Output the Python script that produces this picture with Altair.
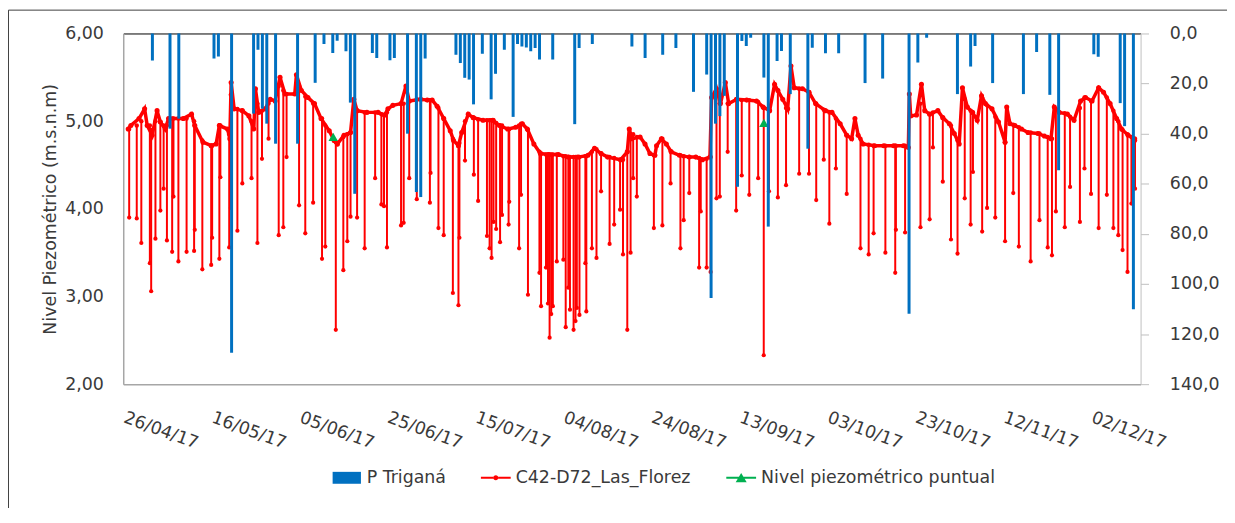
import altair as alt
import pandas as pd

# ---------------- datos ----------------
# Precipitación diaria P Triganá (mm)
p_fechas = ["2017-04-30", "2017-05-04", "2017-05-06", "2017-05-14", "2017-05-15", "2017-05-18",
            "2017-05-23", "2017-05-24", "2017-05-25", "2017-05-26", "2017-05-28", "2017-06-02",
            "2017-06-06", "2017-06-08", "2017-06-10", "2017-06-11", "2017-06-13", "2017-06-14",
            "2017-06-15", "2017-06-19", "2017-06-20", "2017-06-23", "2017-06-24", "2017-06-27",
            "2017-06-29", "2017-06-30", "2017-07-01", "2017-07-08", "2017-07-09", "2017-07-10",
            "2017-07-11", "2017-07-12", "2017-07-14", "2017-07-16", "2017-07-17", "2017-07-19",
            "2017-07-21", "2017-07-22", "2017-07-23", "2017-07-24", "2017-07-25", "2017-07-26",
            "2017-07-27", "2017-07-30", "2017-08-04", "2017-08-05", "2017-08-08", "2017-08-17",
            "2017-08-20", "2017-08-24", "2017-08-27", "2017-08-31", "2017-09-03", "2017-09-04",
            "2017-09-05", "2017-09-06", "2017-09-07", "2017-09-10", "2017-09-11", "2017-09-12",
            "2017-09-13", "2017-09-16", "2017-09-17", "2017-09-19", "2017-09-20", "2017-09-22",
            "2017-09-26", "2017-09-27", "2017-09-30", "2017-10-03", "2017-10-09", "2017-10-13",
            "2017-10-19", "2017-10-21", "2017-10-23", "2017-10-30", "2017-11-02", "2017-11-03",
            "2017-11-07", "2017-11-14", "2017-11-17", "2017-11-20", "2017-11-22", "2017-11-30",
            "2017-12-01", "2017-12-06", "2017-12-07", "2017-12-09"]
p_mm = [10.8, 38.0, 34.0, 10.0, 9.2, 127.5,
        32.0, 6.5, 30.0, 36.0, 44.0, 44.0,
        19.7, 4.2, 7.8, 2.9, 7.1, 27.6,
        64.0, 7.8, 9.8, 10.7, 9.8, 40.0,
        63.3, 65.3, 10.0, 8.5, 11.8, 17.7,
        18.4, 28.3, 8.1, 26.3, 16.1, 6.5,
        33.3, 4.2, 5.2, 5.6, 7.1, 5.8,
        10.4, 10.4, 36.2, 5.8, 4.2, 5.2,
        9.8, 8.5, 5.8, 23.3, 16.4, 105.6,
        36.0, 33.0, 24.9, 61.2, 3.0, 5.0,
        1.7, 17.6, 77.1, 11.0, 7.0, 24.2,
        46.0, 5.7, 7.9, 7.9, 19.8, 18.0,
        111.9, 11.6, 1.7, 24.2, 13.2, 5.0,
        19.8, 24.2, 7.4, 24.5, 54.6, 8.3,
        9.3, 27.8, 37.0, 110.1]

# C42-D72_Las_Florez: nivel base (días desde 24/04/2017 12:00, m.s.n.m)
nivel_dias = [0.0, 0.6, 2.46, 3.73, 4.32, 5.44, 6.56, 7.31, 8.42, 9.17, 12.52, 14.39, 15.13, 17.0,
              18.86, 19.98, 20.72, 22.59, 23.1, 23.4, 24.08, 25.94, 27.43, 28.55, 28.92, 29.67,
              31.16, 32.28, 33.39, 34.51, 35.63, 37.87, 38.24, 39.36, 40.85, 42.34, 43.83, 45.7,
              46.81, 47.56, 49.05, 50.54, 51.29, 52.03, 54.27,
              56.8, 58.29, 59.04, 60.16, 62.02, 63.14, 63.88, 66.49, 67.98, 69.1, 70.22, 71.72,
              73.2, 73.95, 75.07, 75.81, 77.3, 78.42, 80.66, 82.9, 84.39, 86.25, 88.11, 89.6,
              90.72, 92.21, 93.7, 95.57, 97.8, 100.04, 102.27, 104.51, 106.0, 107.49, 108.98,
              111.96, 113.45, 113.9,
              114.5, 116.36, 117.48, 118.6, 119.72, 120.1, 121.21, 122.33, 123.44, 125.31, 127.54,
              129.03, 130.53, 132.24, 132.61, 133.73, 134.63, 135.74, 136.49, 138.35, 140.59,
              142.83, 144.32, 145.81, 146.93, 147.68, 148.79, 149.91, 150.66, 151.4, 153.27,
              154.76, 156.25, 158.49, 159.98, 161.84, 163.33, 164.45, 165.2, 165.94, 167.06, 169.67,
              171.75, 173.99, 176.22, 177.34, 177.57, 177.87, 179.2, 180.32, 181.07, 182.18, 184.05,
              185.17, 186.66, 187.78, 188.9, 189.64, 190.76, 191.88, 193.0, 193.97, 194.86, 196.35,
              197.84, 199.33, 199.7, 200.45, 201.57, 203.06, 204.55, 206.79, 208.28, 209.77,
              210.52, 211.64, 213.5, 215.0, 216.49, 217.61, 219.1, 220.6, 221.71, 223.2, 224.69,
              225.81, 227.3, 228.79]
nivel_m = [4.91, 4.95, 5.03, 5.14, 4.95, 4.84, 5.12, 4.99, 4.91, 5.03, 5.03, 5.08, 4.95, 4.76,
           4.72, 4.74, 4.95, 4.91, 4.80, 5.44, 5.14, 5.12, 5.06, 4.91, 5.37, 5.10,
           5.14, 5.25, 5.23, 5.50, 5.31, 5.31, 5.53, 5.35, 5.27, 5.20, 5.03, 4.89,
           4.78, 4.74, 4.84, 4.87, 5.25, 5.12, 5.10,
           5.10, 5.07, 5.14, 5.18, 5.20, 5.40, 5.23, 5.25, 5.24, 5.24, 5.17, 5.03,
           4.89, 4.78, 4.72, 4.87, 5.08, 5.04, 5.01, 5.01, 4.95, 4.91, 4.93, 4.97,
           4.91, 4.74, 4.63, 4.62, 4.62, 4.59, 4.59, 4.61, 4.69, 4.63, 4.59,
           4.56, 4.65, 4.91,
           4.80, 4.82, 4.74, 4.63, 4.61, 4.72, 4.80, 4.74, 4.65, 4.61, 4.59,
           4.59, 4.56, 4.59, 5.27, 5.37, 5.20, 5.44, 5.20, 5.25, 5.24,
           5.23, 5.16, 5.12, 5.42, 5.35, 5.25, 5.14, 5.63, 5.38, 5.37,
           5.33, 5.20, 5.12, 5.10, 4.97, 4.84, 4.80, 5.03, 4.84, 4.74, 4.72,
           4.72, 4.72, 4.72, 4.70, 5.31, 5.06, 5.07, 5.42, 5.12, 5.08, 5.12,
           5.04, 4.97, 4.86, 4.74, 5.38, 5.16, 5.10, 5.01, 5.29, 5.20, 5.14,
           4.99, 4.76, 5.16, 4.97, 4.95, 4.91, 4.87, 4.86, 4.83, 4.80,
           5.16, 5.10, 5.08, 5.01, 5.23, 5.27, 5.23, 5.38, 5.33, 5.20, 5.03,
           4.91, 4.84, 4.80]

# Descensos por bombeo: día, nivel de partida, nivel mínimo
bombeo_dias = [0.22, 1.94, 2.98, 4.92, 5.22, 6.19, 7.31, 8.05, 8.8, 9.99, 10.29, 11.41, 13.27, 14.98,
               15.13, 16.85, 18.86, 19.08, 20.72, 20.95, 22.96, 23.33, 24.82, 25.94, 28.03, 29.37,
               30.41, 31.9, 34.21, 35.26, 36.0, 38.84, 40.25, 42.04, 44.06, 44.8, 47.19, 48.9,
               49.8, 50.54, 52.03, 53.75, 56.13,
               57.55, 58.15, 58.82, 62.02, 62.62, 63.88, 65.6, 68.58, 68.73, 70.52, 71.72, 73.8,
               75.07, 75.29, 76.56, 78.57, 79.54, 81.55, 82.15, 82.6, 83.04, 83.64, 84.53, 84.98,
               86.47, 86.62, 88.86, 89.3, 90.87, 93.48, 93.85, 94.97, 95.42, 95.79, 96.16, 96.53,
               97.43, 98.92, 99.45, 100.04, 100.42, 101.24, 101.68, 101.98, 102.58, 103.92,
               104.14, 105.41, 106.45, 107.49, 109.43, 110.47, 111.81, 112.48, 113.45, 114.2, 114.79,
               115.62, 119.49, 121.43, 123.29, 125.53, 126.27, 127.54, 129.78, 130.15, 131.49,
               132.39, 133.73, 134.48, 136.27, 138.2, 139.47, 141.18, 143.2, 144.47, 145.66,
               147.68, 149.54, 152.52, 154.76, 156.4, 158.11, 159.38, 160.87, 163.33, 166.46,
               168.32, 169.44, 172.12,
               174.36, 174.51, 176.6, 180.1, 182.18, 182.93, 185.17, 187.03, 188.52, 190.16, 191.5,
               192.03, 194.12, 195.24, 197.1, 199.33, 201.19, 202.46, 205.14, 207.15, 209.02,
               209.99, 210.88, 212.9, 214.1, 216.34, 217.38, 218.87, 220.6, 222.46, 223.95,
               225.07, 226.04, 227.16, 228.05, 228.87]
bombeo_inicio = [4.91, 4.95, 5.0, 4.95, 4.9, 5.0, 4.99, 4.95, 4.95, 5.03, 5.03, 5.03, 5.03, 5.0,
                 4.95, 4.78, 4.72, 4.72, 4.95, 4.95, 4.85, 5.3, 5.14, 5.12, 5.0, 5.2,
                 5.12, 5.2, 5.4, 5.35, 5.31, 5.4, 5.28, 5.2, 5.03, 4.95, 4.76, 4.82,
                 4.85, 4.87, 5.12, 5.1, 5.1,
                 5.08, 5.07, 5.1, 5.2, 5.2, 5.23, 5.25, 5.24, 5.24, 5.15, 5.03, 4.8,
                 4.72, 4.75, 5.0, 5.04, 5.02, 5.01, 5.01, 5.01, 5.01, 4.98, 4.95, 4.95,
                 4.91, 4.91, 4.95, 4.97, 4.9, 4.65, 4.63, 4.62, 4.62, 4.62, 4.62, 4.62,
                 4.62, 4.6, 4.6, 4.59, 4.59, 4.59, 4.59, 4.59, 4.59, 4.6,
                 4.6, 4.65, 4.68, 4.63, 4.59, 4.58, 4.56, 4.56, 4.65, 4.85, 4.85,
                 4.82, 4.61, 4.8, 4.66, 4.61, 4.6, 4.59, 4.58, 4.57, 4.57,
                 4.59, 5.3, 5.2, 5.2, 5.25, 5.24, 5.24, 5.22, 5.15, 5.12,
                 5.35, 5.15, 5.37, 5.33, 5.2, 5.13, 5.1, 5.03, 4.84, 4.8,
                 4.73, 4.72, 4.72,
                 4.72, 4.72, 4.72, 5.2, 5.08, 5.1, 5.04, 4.95, 4.78, 5.25, 5.12,
                 5.1, 5.27, 5.18, 5.05, 4.76, 4.96, 4.93, 4.87, 4.86, 4.82,
                 4.8, 5.14, 5.09, 5.05, 5.15, 5.27, 5.23, 5.38, 5.27, 5.12,
                 5.0, 4.9, 4.85, 4.82, 4.78]
bombeo_min = [3.90, 3.89, 3.61, 3.38, 3.06, 3.66, 3.98, 4.23, 3.64, 3.51, 4.14, 3.40, 3.51, 3.52,
              3.76, 3.31, 3.36, 3.67, 3.43, 4.36, 3.56, 4.01, 3.75, 4.29, 4.35, 3.61,
              4.57, 4.80, 3.70, 3.79, 4.59, 4.04, 3.72, 4.07, 3.43, 3.57, 2.62, 3.30,
              3.63, 3.91, 3.90, 3.55, 4.35,
              4.05, 4.03, 3.56, 3.81, 3.84, 4.35, 4.11, 4.07, 4.41, 3.78, 3.70, 3.04,
              2.90, 3.67, 4.55, 4.39, 4.09, 3.69, 3.55, 3.44, 3.85, 3.77, 3.62, 3.93,
              3.82, 4.08, 3.55, 4.16, 3.02, 3.27, 2.89, 3.33, 2.92, 2.53, 2.80, 2.89,
              3.40, 3.42, 2.65, 3.10, 2.85, 2.62, 2.72, 2.87, 2.79, 3.38,
              2.83, 3.55, 3.44, 4.20, 3.60, 3.82, 3.99, 3.48, 2.62, 3.50, 4.35,
              4.14, 3.78, 3.81, 4.29, 3.55, 3.87, 4.18, 3.33, 3.97, 3.33,
              3.28, 4.12, 4.14, 4.65, 3.98, 4.38, 4.16, 4.35, 2.33, 4.20,
              4.13, 4.27, 4.40, 4.40, 4.10, 4.56, 3.83, 4.46, 4.17, 3.55,
              3.48, 3.72, 3.50,
              3.27, 3.76, 3.73, 3.79, 3.88, 4.70, 4.31, 3.65, 3.49, 4.12, 3.82,
              4.42, 3.74, 4.01, 3.90, 3.63, 4.18, 3.57, 3.40, 3.87, 3.56,
              3.47, 3.97, 3.79, 4.25, 3.85, 4.46, 4.17, 3.78, 4.16, 3.78,
              3.70, 3.53, 3.28, 4.06, 4.23]

# Nivel piezométrico puntual
puntual_dias = [46.6, 144.5]
puntual_m = [4.82, 4.98]

series = ["P Triganá", "C42-D72_Las_Florez", "Nivel piezométrico puntual"]
tick_fechas = ["2017-04-26", "2017-05-16", "2017-06-05", "2017-06-25", "2017-07-15", "2017-08-04",
               "2017-08-24", "2017-09-13", "2017-10-03", "2017-10-23", "2017-11-12", "2017-12-02"]

# ---------------- tablas ----------------
origen = pd.Timestamp("2017-04-24 12:00")


def a_fecha(dias):
    return (origen + pd.to_timedelta(dias, unit="D")).round("min")


df_p = pd.DataFrame({"fecha": pd.to_datetime(p_fechas), "p": p_mm})
df_base = pd.DataFrame({"t": a_fecha(nivel_dias), "nivel": nivel_m})
df_bomb = pd.DataFrame({"t": a_fecha(bombeo_dias), "inicio": bombeo_inicio, "minimo": bombeo_min})
df_punt = pd.DataFrame({"t": a_fecha(puntual_dias), "nivel": puntual_m})


def dt(s, h=0):
    y, m, d = (int(v) for v in s.split("-"))
    return alt.DateTime(year=y, month=m, date=d, hours=h)


x_scale = alt.Scale(domain=[dt("2017-04-24", 12), dt("2017-12-09", 12)])
y_scale = alt.Scale(domain=[2, 6])

RED = "#FF0000"
BLUE = "#0070C0"
GREEN = "#00B050"
TXT = "#3a3a3a"
FONT = "DejaVu Sans"

ax_bottom = alt.Axis(values=[dt(s) for s in tick_fechas], format="%d/%m/%y", labelAngle=20,
                     labelAlign="left", labelBaseline="middle", labelPadding=33, labelOffset=-11,
                     ticks=False, tickSize=0, domainColor="#A6A6A6", domainWidth=1.5, grid=False,
                     title=None, labelOverlap=False, labelFlush=False, labelBound=False)
ax_left = alt.Axis(values=[2, 3, 4, 5, 6], labelExpr="replace(format(datum.value, '.2f'), '.', ',')",
                   ticks=False, tickSize=0, labelPadding=20, domainColor="#A6A6A6", domainWidth=1.5,
                   grid=False, title="Nivel Piezométrico (m.s.n.m)", titlePadding=5)
ax_top = alt.Axis(orient="top", labels=False, ticks=False, domainColor="#000000", domainWidth=1,
                  title=None, grid=False)
ax_right = alt.Axis(orient="right", values=list(range(0, 141, 20)),
                    labelExpr="replace(format(datum.value, '.1f'), '.', ',')",
                    ticks=True, tickSize=8, tickColor="#BFBFBF", domainColor="#BFBFBF",
                    labelPadding=21, title="P (mm)", titleAngle=270, titleBaseline="top",
                    titlePadding=9, grid=False)

X_red = alt.X("t:T", scale=x_scale, axis=ax_bottom)


def Y_red(field):
    return alt.Y(field, type="quantitative", scale=y_scale, axis=ax_left)


rules = alt.Chart(df_bomb).mark_rule(color=RED, strokeWidth=2).encode(
    x=X_red, y=Y_red("inicio"), y2="minimo:Q")
bottoms = alt.Chart(df_bomb).mark_circle(color=RED, size=18, opacity=1).encode(
    x=X_red, y=Y_red("minimo"))
tops = alt.Chart(df_bomb).mark_circle(color=RED, size=20, opacity=1).encode(
    x=X_red, y=Y_red("inicio"))
line = alt.Chart(df_base).mark_line(color=RED, strokeWidth=3.5).encode(
    x=X_red, y=Y_red("nivel"))
base_pts = alt.Chart(df_base).mark_circle(color=RED, size=26, opacity=1).encode(
    x=X_red, y=Y_red("nivel"))
green = alt.Chart(df_punt).mark_point(shape="triangle-up", filled=True, color=GREEN, size=90,
                                      opacity=1).encode(x=X_red, y=Y_red("nivel"))
red_layer = alt.layer(rules, line, base_pts, tops, bottoms, green)

bars = alt.Chart(df_p).mark_bar(color=BLUE, size=3).encode(
    x=alt.X("fecha:T", scale=x_scale, axis=ax_top),
    y=alt.Y("p:Q", scale=alt.Scale(domain=[0, 140], reverse=True), axis=ax_right),
)

sym_paths = [
    "M-0.95,-0.4H0.95V0.4H-0.95Z",
    "M-1,-0.07H-0.16V0.07H-1Z M0.16,-0.07H1V0.07H0.16Z M-0.17,0A0.17,0.17 0 1,0 0.17,0A0.17,0.17 0 1,0 -0.17,0Z",
    "M-1,-0.07H1V0.07H-1Z M-0.37,0.3L0,-0.32L0.37,0.3Z",
]
leg = alt.Legend(title=None, orient="none", legendX=210, legendY=432, direction="horizontal",
                 symbolSize=900, labelFontSize=17.5, labelFont=FONT, labelColor=TXT,
                 labelOffset=5, columnPadding=35, symbolStrokeWidth=0, labelLimit=600)
legend_layer = alt.Chart(pd.DataFrame({"serie": series})).transform_filter(
    "datum.serie == 'ninguna'").mark_point(filled=True, opacity=1).encode(
    color=alt.Color("serie:N", scale=alt.Scale(domain=series, range=[BLUE, RED, GREEN]), legend=leg),
    shape=alt.Shape("serie:N", scale=alt.Scale(domain=series, range=sym_paths), legend=leg),
    size=alt.Size("serie:N", scale=alt.Scale(domain=series, range=[900, 900, 900]), legend=leg),
)

border = alt.Chart(pd.DataFrame({"a": [1]})).mark_rect(filled=False, stroke="#404040",
                                                        strokeWidth=1).encode(
    x=alt.value(-115.5), x2=alt.value(1300), y=alt.value(-23.5), y2=alt.value(700))

chart = alt.layer(red_layer, bars, legend_layer, border).resolve_scale(
    y="independent").resolve_axis(x="independent", y="independent").properties(
    width=1024, height=353,
    padding={"left": 116, "top": 24, "right": 87, "bottom": 123},
    autosize=alt.AutoSizeParams(type="none"),
).configure_view(stroke=None).configure_axis(
    labelFont=FONT, titleFont=FONT, labelFontSize=17.5, titleFontSize=17.5,
    labelColor=TXT, titleColor=TXT, titleFontWeight="normal",
).configure_legend(symbolSize=900)

chart.save("out.html", embed_options={"renderer": "svg", "actions": False})
